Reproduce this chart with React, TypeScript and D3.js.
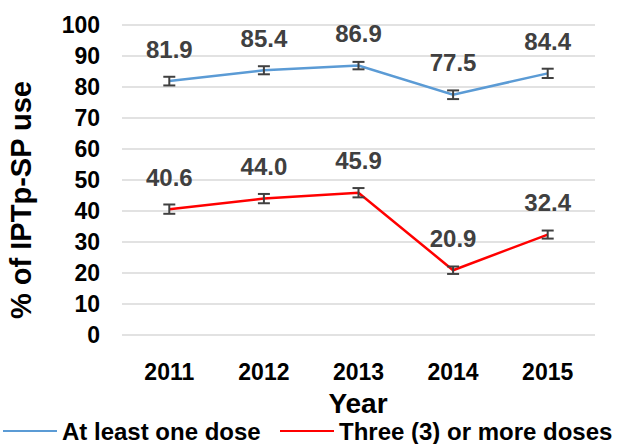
import React, { useEffect, useRef } from "react";
import * as d3 from "d3";

const years = ["2011", "2012", "2013", "2014", "2015"];
const atLeastOne = [81.9, 85.4, 86.9, 77.5, 84.4];
const threeOrMore = [40.6, 44.0, 45.9, 20.9, 32.4];
const atLeastOneErr = [1.4, 1.3, 1.2, 1.4, 1.5];
const threeOrMoreErr = [1.5, 1.5, 1.5, 1.2, 1.3];
const yTicks = [0, 10, 20, 30, 40, 50, 60, 70, 80, 90, 100];

const series = [
  { name: "At least one dose", values: atLeastOne, err: atLeastOneErr, color: "#5B9BD5" },
  { name: "Three (3) or more doses", values: threeOrMore, err: threeOrMoreErr, color: "#FF0000" },
];

const W = 617;
const H = 444;
const font = "'Liberation Sans', Arial, sans-serif";

function App() {
  const ref = useRef<SVGSVGElement>(null);

  useEffect(() => {
    const svg = d3.select(ref.current);
    svg.selectAll("*").remove();

    const x = d3.scaleBand().domain(years).range([122, 595]);
    const y = d3.scaleLinear().domain([0, 100]).range([335, 25]);

    // gridlines
    svg
      .append("g")
      .selectAll("line")
      .data(yTicks)
      .join("line")
      .attr("x1", 122)
      .attr("x2", 595)
      .attr("y1", (d) => y(d))
      .attr("y2", (d) => y(d))
      .attr("stroke", "#D9D9D9")
      .attr("stroke-width", 1.5);

    // y tick labels
    svg
      .append("g")
      .selectAll("text")
      .data(yTicks)
      .join("text")
      .attr("x", 100)
      .attr("y", (d) => y(d))
      .attr("dy", "0.36em")
      .attr("text-anchor", "end")
      .style("font", `bold 23px ${font}`)
      .attr("fill", "#000")
      .text((d) => d);

    // x tick labels
    svg
      .append("g")
      .selectAll("text")
      .data(years)
      .join("text")
      .attr("x", (d) => x(d)! + x.bandwidth() / 2)
      .attr("y", 380)
      .attr("text-anchor", "middle")
      .style("font", `bold 23px ${font}`)
      .attr("fill", "#000")
      .text((d) => d);

    // axis titles
    svg
      .append("text")
      .attr("x", 358)
      .attr("y", 413)
      .attr("text-anchor", "middle")
      .style("font", `bold 28px ${font}`)
      .text("Year");
    svg
      .append("text")
      .attr("transform", "translate(31,200) rotate(-90)")
      .attr("text-anchor", "middle")
      .style("font", `bold 29px ${font}`)
      .text("% of IPTp-SP use");

    const cx = (i: number) => x(years[i])! + x.bandwidth() / 2;
    const line = d3
      .line<number>()
      .x((_, i) => cx(i))
      .y((d) => y(d));

    series.forEach((s) => {
      const g = svg.append("g");
      g.append("path")
        .attr("d", line(s.values))
        .attr("fill", "none")
        .attr("stroke", s.color)
        .attr("stroke-width", 2.5);

      // error bars
      s.values.forEach((v, i) => {
        const eb = g.append("g").attr("stroke", "#404040").attr("stroke-width", 2);
        eb.append("line")
          .attr("x1", cx(i))
          .attr("x2", cx(i))
          .attr("y1", y(v - s.err[i]))
          .attr("y2", y(v + s.err[i]));
        [v - s.err[i], v + s.err[i]].forEach((e) => {
          eb.append("line")
            .attr("x1", cx(i) - 6)
            .attr("x2", cx(i) + 6)
            .attr("y1", y(e))
            .attr("y2", y(e));
        });
      });

      // data labels
      g.selectAll("text.lbl")
        .data(s.values)
        .join("text")
        .attr("class", "lbl")
        .attr("x", (_, i) => cx(i))
        .attr("y", (d) => y(d) - 32)
        .attr("dy", "0.36em")
        .attr("text-anchor", "middle")
        .style("font", `bold 24px ${font}`)
        .attr("fill", "#404040")
        .text((d) => d.toFixed(1));
    });

    // legend
    const legendX = [3, 280];
    series.forEach((s, i) => {
      const lg = svg.append("g").attr("transform", `translate(${legendX[i]},431)`);
      lg.append("line")
        .attr("x1", 0)
        .attr("x2", 54)
        .attr("stroke", s.color)
        .attr("stroke-width", 2);
      lg.append("text")
        .attr("x", 59)
        .attr("dy", "0.36em")
        .style("font", `bold 24px ${font}`)
        .attr("fill", "#000")
        .text(s.name);
    });
  }, []);

  return (
    <svg
      ref={ref}
      width={W}
      height={H}
      style={{ position: "absolute", left: 0, top: 0, background: "#fff" }}
    />
  );
}

export default App;
